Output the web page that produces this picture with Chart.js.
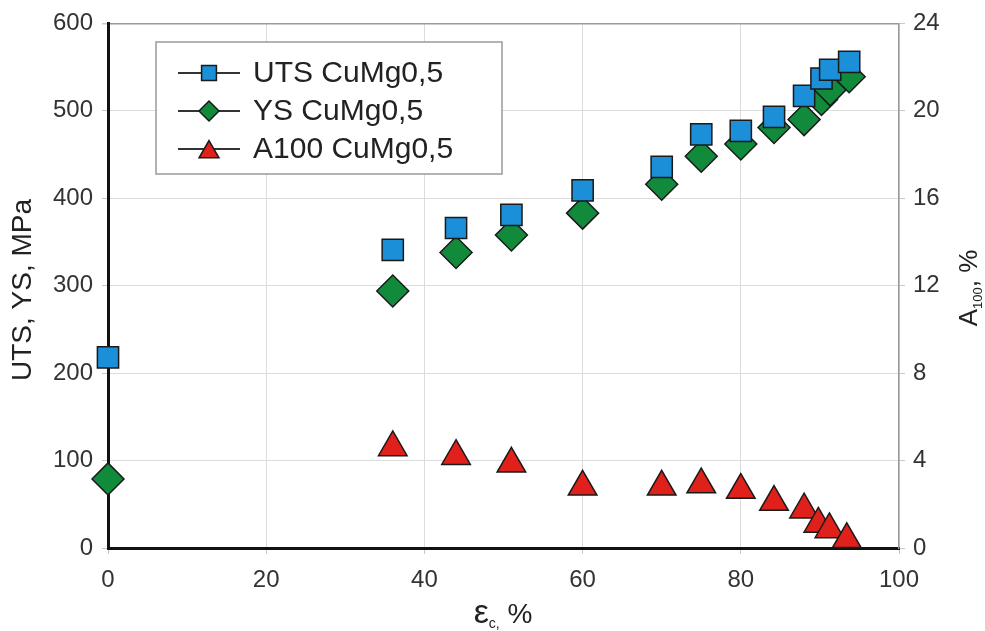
<!DOCTYPE html>
<html>
<head>
<meta charset="utf-8">
<script src="https://cdn.jsdelivr.net/npm/chart.js@4.4.1/dist/chart.umd.min.js"></script>
<style>
  html, body { margin: 0; padding: 0; background: #fff; }
</style>
</head>
<body>
<canvas id="chart" width="985" height="631"></canvas>
<script>
const strain = [0, 36, 44, 51, 60, 70, 75, 80, 84.2, 88, 90.2, 91.3, 93.7];
const uts = [218, 341, 366, 381, 409, 436, 473, 477, 493, 517, 537, 547, 556];
const ys = [79, 294, 338, 358, 383, 416, 448, 462, 481, 490, 513, 524, 539];

const strainA = [36, 44, 51, 60, 70, 75, 80, 84.2, 88, 89.8, 91.2, 93.4];
const a100 = [4.6, 4.2, 3.85, 2.8, 2.8, 2.9, 2.65, 2.1, 1.75, 1.1, 0.85, 0.4];

const seriesNames = ["UTS CuMg0,5", "YS CuMg0,5", "A100 CuMg0,5"];
const xTicks = [0, 20, 40, 60, 80, 100];
const yTicks = [0, 100, 200, 300, 400, 500, 600];
const y1Ticks = [0, 4, 8, 12, 16, 20, 24];

const FONT = '"Liberation Sans", Arial, sans-serif';

function toPoints(xs, ys) {
  return xs.map((x, i) => ({ x: x, y: ys[i] }));
}

const datasets = [
  {
    label: seriesNames[0],
    data: toPoints(strain, uts),
    yAxisID: "y",
    pointStyle: "rect",
    pointRadius: 15,
    backgroundColor: "#1b8fd8",
    borderColor: "#1a1a1a",
    borderWidth: 1.5,
    clip: false,
  },
  {
    label: seriesNames[1],
    data: toPoints(strain, ys),
    yAxisID: "y",
    pointStyle: "rectRot",
    pointRadius: 16,
    backgroundColor: "#128a3b",
    borderColor: "#1a1a1a",
    borderWidth: 1.5,
    clip: false,
  },
  {
    label: seriesNames[2],
    data: toPoints(strainA, a100),
    yAxisID: "y1",
    pointStyle: "triangle",
    pointRadius: 16.5,
    backgroundColor: "#e0211b",
    borderColor: "#1a1a1a",
    borderWidth: 1.5,
    clip: false,
  },
];

function tickValues(list) {
  return function (scale) {
    scale.ticks = list.map((v) => ({ value: v }));
  };
}

// axis titles (with subscripts) and the boxed legend
const decorations = {
  id: "decorations",
  afterDraw(chart) {
    const ctx = chart.ctx;
    ctx.save();
    ctx.fillStyle = "#222";
    ctx.textBaseline = "alphabetic";

    // left title
    ctx.save();
    ctx.translate(31, 290);
    ctx.rotate(-Math.PI / 2);
    ctx.font = "28px " + FONT;
    ctx.textAlign = "center";
    ctx.fillText("UTS, YS, MPa", 0, 0);
    ctx.restore();

    // right title A100, %
    ctx.save();
    ctx.translate(977, 288);
    ctx.rotate(-Math.PI / 2);
    ctx.textAlign = "left";
    const big = "26px " + FONT, small = "13px " + FONT;
    ctx.font = big; const wA = ctx.measureText("A").width;
    ctx.font = small; const wS = ctx.measureText("100").width;
    ctx.font = big; const wP = ctx.measureText(", %").width;
    let x0 = -(wA + wS + wP) / 2;
    ctx.font = big; ctx.fillText("A", x0, 0);
    ctx.font = small; ctx.fillText("100", x0 + wA, 5);
    ctx.font = big; ctx.fillText(", %", x0 + wA + wS, 0);
    ctx.restore();

    // bottom title εc, %
    ctx.save();
    ctx.textAlign = "left";
    const fe = "34px " + FONT, fs = "14px " + FONT, fp = "28px " + FONT;
    ctx.font = fe; const we = ctx.measureText("\u03b5").width;
    ctx.font = fs; const wc = ctx.measureText("c,").width;
    ctx.font = fp; const wp = ctx.measureText(" %").width;
    let bx = 503 - (we + wc + wp) / 2;
    ctx.font = fe; ctx.fillText("\u03b5", bx, 623);
    ctx.font = fs; ctx.fillText("c,", bx + we, 628);
    ctx.font = fp; ctx.fillText(" %", bx + we + wc, 623);
    ctx.restore();

    // legend
    ctx.fillStyle = "#fff";
    ctx.fillRect(156, 42, 346, 132);
    ctx.strokeStyle = "#9a9a9a";
    ctx.lineWidth = 1.5;
    ctx.strokeRect(156, 42, 346, 132);
    const rows = [73, 111, 149];
    const legendRadius = [10.5, 10, 11.5];
    chart.data.datasets.forEach((ds, i) => {
      const y = rows[i];
      ctx.strokeStyle = "#333";
      ctx.lineWidth = 2;
      ctx.beginPath();
      ctx.moveTo(178, y);
      ctx.lineTo(240, y);
      ctx.stroke();
      ctx.fillStyle = ds.backgroundColor;
      ctx.strokeStyle = ds.borderColor;
      ctx.lineWidth = 1.5;
      Chart.helpers.drawPoint(ctx, {
        pointStyle: ds.pointStyle,
        radius: legendRadius[i],
        rotation: 0,
        borderWidth: 1.5,
      }, 209, y + (ds.pointStyle === "triangle" ? 3 : 0));
      ctx.fillStyle = "#222";
      ctx.font = "30px " + FONT;
      ctx.textAlign = "left";
      ctx.textBaseline = "middle";
      ctx.fillText(ds.label, 253, y + 1);
    });
    ctx.restore();
  },
};

const tickFont = { family: FONT, size: 24 };

new Chart(document.getElementById("chart"), {
  type: "scatter",
  data: { datasets: datasets },
  options: {
    responsive: false,
    animation: false,
    devicePixelRatio: 1,
    layout: { padding: { top: 22, left: 0, right: 0, bottom: 0 } },
    plugins: {
      legend: { display: false },
      tooltip: { enabled: false },
    },
    scales: {
      x: {
        type: "linear",
        min: 0,
        max: 100,
        afterBuildTicks: tickValues(xTicks),
        afterFit(scale) { scale.height = 83; },
        ticks: { font: tickFont, color: "#333", padding: 12, maxRotation: 0 },
        grid: { color: "#dcdcdc", tickColor: "#c8c8c8", tickLength: 6, lineWidth: 1 },
        border: { color: "#111", width: 3 },
      },
      y: {
        position: "left",
        min: 0,
        max: 600,
        afterBuildTicks: tickValues(yTicks),
        afterFit(scale) { scale.width = 108; },
        ticks: { font: tickFont, color: "#333", padding: 9 },
        grid: {
          color: (c) => (c.tick && c.tick.value === 600 ? "#9a9a9a" : "#dcdcdc"),
          tickColor: "#c8c8c8",
          tickLength: 6,
          lineWidth: (c) => (c.tick && c.tick.value === 600 ? 1.5 : 1),
        },
        border: { color: "#111", width: 3 },
      },
      y1: {
        position: "right",
        min: 0,
        max: 24,
        afterBuildTicks: tickValues(y1Ticks),
        afterFit(scale) { scale.width = 86; },
        ticks: { font: tickFont, color: "#333", padding: 8 },
        grid: { drawOnChartArea: false, tickColor: "#c8c8c8", tickLength: 6 },
        border: { color: "#9a9a9a", width: 1.5 },
      },
    },
  },
  plugins: [decorations],
});
</script>
</body>
</html>
